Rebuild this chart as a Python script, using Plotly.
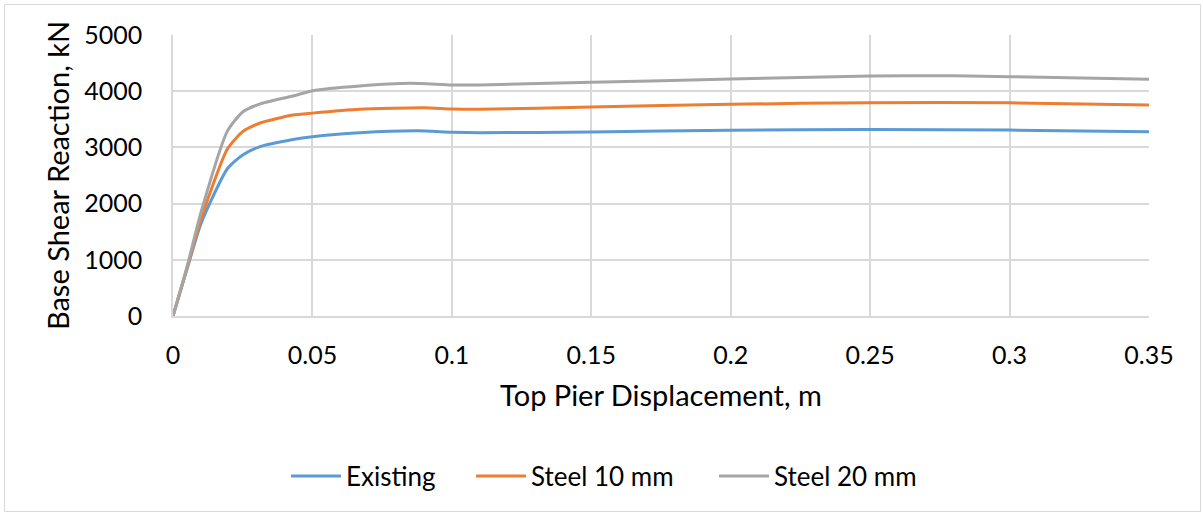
import plotly.graph_objects as go

disp_existing = [0, 0.005, 0.01, 0.0195, 0.025, 0.031, 0.043, 0.05, 0.067, 0.0875, 0.1, 0.11, 0.15, 0.2, 0.25, 0.3, 0.35]
base_existing = [0, 830, 1640, 2620, 2865, 3010, 3140, 3190, 3260, 3295, 3270, 3262, 3274, 3305, 3318, 3308, 3280]

disp_steel10 = [0, 0.005, 0.01, 0.0195, 0.025, 0.031, 0.043, 0.05, 0.067, 0.09, 0.1, 0.11, 0.15, 0.2, 0.25, 0.3, 0.35]
base_steel10 = [0, 850, 1720, 2970, 3280, 3430, 3575, 3610, 3678, 3707, 3683, 3678, 3719, 3767, 3796, 3794, 3754]

disp_steel20 = [0, 0.005, 0.01, 0.0195, 0.025, 0.031, 0.043, 0.05, 0.067, 0.085, 0.1, 0.11, 0.15, 0.2, 0.25, 0.28, 0.3, 0.35]
base_steel20 = [0, 870, 1840, 3290, 3630, 3770, 3915, 4009, 4093, 4140, 4110, 4112, 4158, 4217, 4270, 4276, 4258, 4211]

x_ticks = [0, 0.05, 0.1, 0.15, 0.2, 0.25, 0.3, 0.35]
x_ticklabels = ["0", "0.05", "0.1", "0.15", "0.2", "0.25", "0.3", "0.35"]
y_ticks = [0, 1000, 2000, 3000, 4000, 5000]
y_ticklabels = ["0", "1000", "2000", "3000", "4000", "5000"]

FONT = "Lato"
W, H = 1203, 515
L, R, T, B = 173, 54, 35, 199
pw, ph = W - L - R, H - T - B

def px_x(p):
    return (p - L) / pw

def px_y(p):
    return (H - B - p) / ph

series = [
    ("Existing", disp_existing, base_existing, "#5B9BD5", "legend", 292),
    ("Steel 10 mm", disp_steel10, base_steel10, "#ED7D31", "legend2", 477),
    ("Steel 20 mm", disp_steel20, base_steel20, "#A5A5A5", "legend3", 720),
]

fig = go.Figure()
legends = {}
for name, xs, ys, col, lg, lx in series:
    fig.add_trace(go.Scatter(x=xs, y=ys, mode="lines", name=name, legend=lg,
                             line=dict(color=col, width=3, shape="spline", smoothing=0.6)))
    legends[lg] = dict(orientation="h", x=px_x(lx - 6), xanchor="left", y=px_y(476), yanchor="middle",
                       font=dict(size=26), itemwidth=50, bgcolor="rgba(0,0,0,0)")

fig.add_shape(type="rect", xref="paper", yref="paper",
              x0=px_x(4.5), x1=px_x(1200.5), y0=px_y(511.5), y1=px_y(4.5),
              line=dict(color="#D9D9D9", width=1), layer="below")

fig.update_layout(
    width=W, height=H,
    margin=dict(l=L, r=R, t=T, b=B),
    paper_bgcolor="white", plot_bgcolor="white",
    font=dict(family=FONT, size=25, color="#000000"),
    showlegend=True,
    **legends,
    xaxis=dict(range=[0, 0.35], tickvals=x_ticks, ticktext=x_ticklabels,
               showgrid=True, gridcolor="#D9D9D9", gridwidth=1.5,
               showline=True, linecolor="#D9D9D9", linewidth=1.5,
               zeroline=False, ticks="", ticklen=0, ticklabelstandoff=16,
               tickfont=dict(size=25),
               title=dict(text="Top Pier Displacement, m", font=dict(size=29), standoff=18)),
    yaxis=dict(range=[0, 5000], tickvals=y_ticks, ticktext=y_ticklabels,
               showgrid=True, gridcolor="#D9D9D9", gridwidth=1.5,
               showline=True, linecolor="#D9D9D9", linewidth=1.5,
               zeroline=False, ticks="", ticklen=0, ticklabelstandoff=24,
               tickfont=dict(size=25),
               title=dict(text="Base Shear Reaction, kN", font=dict(size=29), standoff=6)),
)

fig.write_html("out.html")
